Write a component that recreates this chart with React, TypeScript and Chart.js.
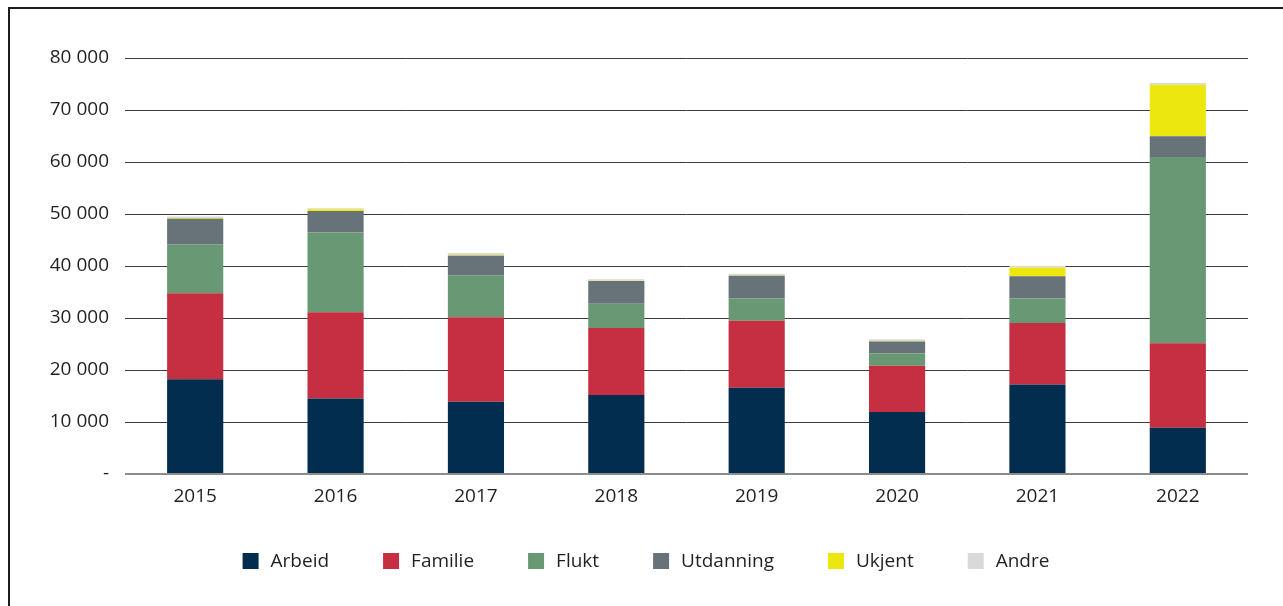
import { useEffect, useRef } from 'react';
import { Chart, registerables } from 'chart.js';

Chart.register(...registerables);

const years = ['2015', '2016', '2017', '2018', '2019', '2020', '2021', '2022'];
const arbeid = [18200, 14500, 13900, 15200, 16600, 11900, 17200, 8900];
const familie = [16550, 16600, 16230, 12880, 12880, 8910, 11850, 16230];
const flukt = [9420, 15330, 8070, 4670, 4310, 2380, 4690, 35830];
const utdanning = [4930, 4160, 3780, 4370, 4350, 2310, 4290, 3980];
const ukjent = [150, 300, 150, 50, 50, 100, 1700, 9930];
const andre = [250, 200, 350, 300, 300, 300, 250, 300];

const seriesNames = ['Arbeid', 'Familie', 'Flukt', 'Utdanning', 'Ukjent', 'Andre'];
const seriesValues = [arbeid, familie, flukt, utdanning, ukjent, andre];
const seriesColors = ['#022d4e', '#c52f41', '#699974', '#687279', '#ede710', '#d9d9db'];

const yMin = 0;
const yMax = 80000;
const yStep = 10000;

const FONT = '"Open Sans", "Noto Sans", sans-serif';
const TEXT = '#231f20';

const legendPlugin = {
  id: 'customLegend',
  afterDraw(chart: any) {
    const ctx = chart.ctx as CanvasRenderingContext2D;
    ctx.save();
    ctx.font = `19px ${FONT}`;
    ctx.textBaseline = 'middle';
    const box = 16;
    const gap = 12;
    const itemGap = 54;
    const widths = chart.data.datasets.map(
      (ds: any) => box + gap + ctx.measureText(ds.label).width
    );
    const total = widths.reduce((a: number, b: number) => a + b, 0) + itemGap * (widths.length - 1);
    let x = 646 - total / 2;
    const cy = 561;
    chart.data.datasets.forEach((ds: any, i: number) => {
      ctx.fillStyle = ds.backgroundColor;
      ctx.fillRect(x, cy - box / 2, box, box);
      ctx.fillStyle = TEXT;
      ctx.textAlign = 'left';
      ctx.fillText(ds.label, x + box + gap, cy + 1);
      x += widths[i] + itemGap;
    });
    ctx.restore();
  },
};

export default function App() {
  const canvasRef = useRef<HTMLCanvasElement | null>(null);

  useEffect(() => {
    const canvas = canvasRef.current;
    if (!canvas) return;
    const chart = new Chart(canvas, {
      type: 'bar',
      data: {
        labels: years,
        datasets: seriesNames.map((name, i) => ({
          label: name,
          data: seriesValues[i],
          backgroundColor: seriesColors[i],
          borderWidth: 0,
          barPercentage: 0.4,
          categoryPercentage: 1,
        })),
      },
      options: {
        animation: false,
        responsive: false,
        maintainAspectRatio: false,
        layout: { padding: { top: 58, right: 35, left: 0, bottom: 92 } },
        plugins: {
          legend: { display: false },
          tooltip: { enabled: false },
        },
        scales: {
          x: {
            stacked: true,
            border: { display: false },
            grid: { display: false, drawTicks: false },
            ticks: {
              color: TEXT,
              font: { family: FONT, size: 19 },
              padding: 11,
            },
            afterFit: (scale: any) => {
              scale.height = 40;
            },
          },
          y: {
            stacked: true,
            min: yMin,
            max: yMax,
            border: { display: false },
            grid: {
              drawTicks: false,
              color: (c: any) => (c.tick && c.tick.value === 0 ? '#8c8c8c' : '#3c3c3c'),
              lineWidth: (c: any) => (c.tick && c.tick.value === 0 ? 2 : 1),
            },
            ticks: {
              stepSize: yStep,
              color: TEXT,
              font: { family: FONT, size: 19 },
              padding: 16,
              callback: (v: any) =>
                Number(v) === 0 ? '-' : String(v).replace(/\B(?=(\d{3})+(?!\d))/g, ' '),
            },
            afterFit: (scale: any) => {
              scale.width = 125;
            },
          },
        },
      },
      plugins: [legendPlugin],
    });
    return () => chart.destroy();
  }, []);

  return (
    <>
      <div
        style={{
          position: 'fixed',
          left: 8,
          top: 7,
          width: 1275,
          height: 599,
          boxSizing: 'border-box',
          borderTop: '2px solid #1d1d1b',
          borderLeft: '2px solid #1d1d1b',
        }}
      />
      <canvas
        ref={canvasRef}
        width={1283}
        height={606}
        style={{ position: 'fixed', left: 0, top: 0, width: 1283, height: 606 }}
      />
    </>
  );
}
